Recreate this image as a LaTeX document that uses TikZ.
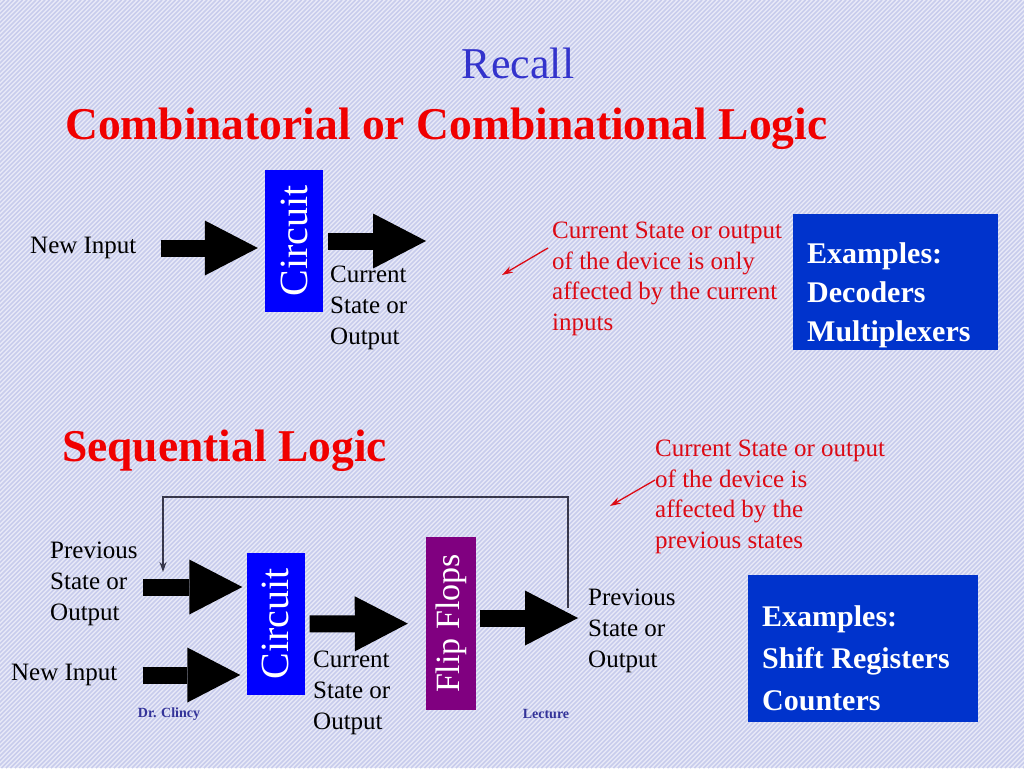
\documentclass[tikz,border=0pt]{standalone}
\usepackage{fontspec}
\setmainfont{Liberation Serif}
\usepackage{graphicx}
\usetikzlibrary{arrows.meta}

\definecolor{fond}{RGB}{233,234,248}
\definecolor{raie}{RGB}{200,204,236}
\definecolor{recallblue}{RGB}{51,51,204}
\definecolor{titlered}{RGB}{240,0,0}
\definecolor{notered}{RGB}{220,10,20}
\definecolor{circblue}{RGB}{0,0,255}
\definecolor{exblue}{RGB}{0,51,204}
\definecolor{ffpurple}{RGB}{128,0,128}
\definecolor{footblue}{RGB}{51,51,153}
\definecolor{fbgray}{RGB}{55,55,75}

\tikzset{
  titre/.style={inner sep=0pt, anchor=west, text=titlered,
    font=\bfseries\fontsize{45.5}{54}\selectfont},
  texte/.style={inner sep=0pt, anchor=west, align=left,
    font=\fontsize{25}{31}\selectfont},
  note/.style={texte, text=notered,
    font=\fontsize{25}{30.5}\selectfont},% texte rouge
  boite/.style={rectangle, inner sep=0pt, text=white,
    font=\fontsize{40}{40}\selectfont},
  circ/.style={boite, fill=circblue,
    minimum width=58pt, minimum height=142pt},
  flip/.style={boite, fill=ffpurple,
    minimum width=50pt, minimum height=173pt,
    font=\fontsize{34}{34}\selectfont},
  exemple/.style={rectangle, fill=exblue, anchor=north west, inner sep=0pt},
  extexte/.style={inner sep=0pt, anchor=west, align=left, text=white,
    font=\bfseries\fontsize{30}{39}\selectfont},
  fleche/.style={line width=17pt,
    -{Triangle[length=53pt,width=55pt,line width=0pt]}},% grosse fleche noire
  retour/.style={draw=fbgray, line width=1.5pt,
    -{Stealth[length=10pt,width=7pt]}},
  pointe/.style={draw=notered, line width=1.3pt,
    -{Stealth[length=11pt,width=7pt]}},
  pied/.style={inner sep=0pt, text=footblue,
    font=\bfseries\fontsize{14}{16}\selectfont}
}

\begin{document}
\begin{tikzpicture}[x=1pt,y=-1pt]
\useasboundingbox (0,0) rectangle (1024,768);
% fond raye
\fill[fond] (0,0) rectangle (1024,768);
\begin{scope}
\clip (0,0) rectangle (1024,768);
\foreach \i in {0,4.5,...,1800}
  \draw[raie, line width=1.5pt] (\i,0) -- ++(-768,768);
\end{scope}

% titres
\node[font=\fontsize{44}{50}\selectfont, text=recallblue] (recall) at (518,63) {Recall};
\node[titre] (comb) at (65,129) {Combinatorial or Combinational Logic};
\node[titre] (seq) at (62,451) {Sequential Logic};

% logique combinatoire
\node[texte] (newinA) at (30,248) {New Input};
\node[circ] (circA) at (294,241) {\rotatebox{90}{Circuit}};
\coordinate (outA) at (426,240);
\node[texte] (curA) at (330,308) {Current\\State or\\Output};
\draw[fleche, shorten <=24pt, shorten >=7pt] (newinA.east) -- (newinA.east -| circA.west);
\draw[fleche, shorten <=5pt] (circA.east) -- (circA.east -| outA);

\node[note] (noteA) at (552,279) {Current State or output\\of the device is only\\affected by the current\\inputs};
\coordinate (ptA1) at (548,248);
\coordinate (ptA2) at (502,275);
\draw[pointe] (ptA1) -- (ptA2);

\node[exemple, minimum width=205pt, minimum height=136pt] (exA) at (793,214) {};
\node[extexte] (exAt) at (807,295) {Examples:\\Decoders\\Multiplexers};

% logique sequentielle
\node[texte] (prevL) at (50,584) {Previous\\State or\\Output};
\node[texte] (newinB) at (11,675) {New Input};
\node[circ] (circB) at (275.5,624) {\rotatebox{90}{Circuit}};
\node[flip] (ffB) at (451,623.5) {\rotatebox{90}{Flip Flops}};
\node[texte] (curB) at (313,693) {Current\\State or\\Output};
\node[texte] (prevR) at (588,631) {Previous\\State or\\Output};
\coordinate (outB) at (578,618);

\draw[fleche, shorten <=5pt, shorten >=4pt] ([yshift=-3pt]prevL.east) -- ([yshift=-3pt]prevL.east -| circB.west);
\draw[fleche, shorten <=25pt, shorten >=6pt] (newinB.east) -- (newinB.east -| circB.west);
\draw[fleche, shorten <=5pt, shorten >=18pt] (circB.east) -- (ffB.west);
\draw[fleche, shorten <=4pt] ([yshift=5.5pt]ffB.east) -- (outB);

% boucle de retour
\coordinate (fbR) at (568,608);
\coordinate (fbTop) at (568,497);
\coordinate (fbL) at (163,572);
\draw[retour] (fbR) -- (fbTop) -| (fbL);

\node[note] (noteB) at (655,497) {Current State or output\\of the device is\\affected by the\\previous states};
\coordinate (ptB1) at (655,480);
\coordinate (ptB2) at (610,506);
\draw[pointe] (ptB1) -- (ptB2);

\node[exemple, minimum width=230pt, minimum height=147pt] (exB) at (748,575) {};
\node[extexte, font=\bfseries\fontsize{30}{42}\selectfont] (exBt) at (762,658) {Examples:\\Shift Registers\\Counters};

% pied de page
\node[pied] (auteur) at (169,714) {Dr. Clincy};
\node[pied] (cours) at (546,714) {Lecture};
\end{tikzpicture}
\end{document}
